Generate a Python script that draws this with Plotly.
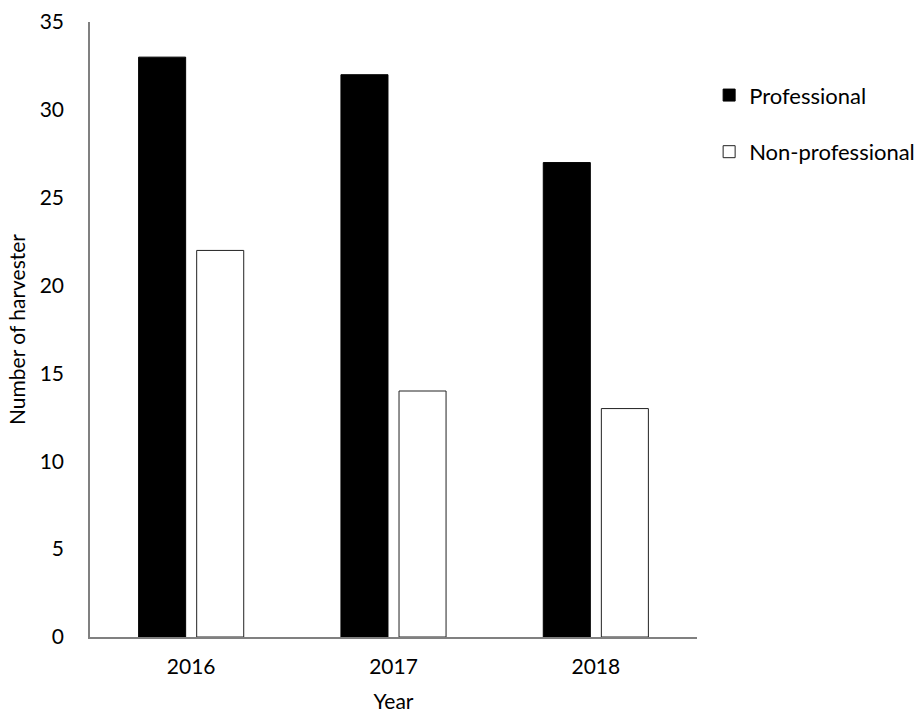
import plotly.graph_objects as go

years = ["2016", "2017", "2018"]
professional = [33, 32, 27]
non_professional = [22, 14, 13]
y_ticks = [0, 5, 10, 15, 20, 25, 30, 35]

FONT = "Lato, 'Open Sans', sans-serif"

fig = go.Figure()
fig.add_trace(go.Bar(
    x=years, y=professional, name="Professional",
    marker=dict(color="black", line=dict(color="black", width=1)),
    legendgroup="a",
))
fig.add_trace(go.Bar(
    x=years, y=non_professional, name="Non-professional",
    marker=dict(color="white", line=dict(color="#222222", width=1)),
    legendgroup="b",
))

fig.update_layout(
    width=922, height=713,
    margin=dict(l=90, r=225, t=22, b=76, autoexpand=False),
    paper_bgcolor="white", plot_bgcolor="white",
    barmode="group", bargap=0.426, bargroupgap=0.19,
    font=dict(family=FONT, size=21, color="black"),
    legend=dict(
        x=1.02, xanchor="left", y=0.915, yanchor="top",
        font=dict(family=FONT, size=22, color="black"),
        tracegroupgap=25, itemwidth=30,
        bgcolor="rgba(0,0,0,0)",
    ),
    xaxis=dict(
        showline=True, linecolor="#808080", linewidth=1.5,
        ticks="", ticklabelstandoff=10, automargin=False,
        title=dict(text="Year", standoff=22, font=dict(size=21)),
        tickfont=dict(size=21),
    ),
    yaxis=dict(
        range=[0, 35], tickvals=y_ticks, automargin=False,
        showline=True, linecolor="#808080", linewidth=1.5,
        showgrid=False, zeroline=False, ticks="",
        ticklabelstandoff=20,
        title=dict(text="Number of harvester", standoff=8, font=dict(size=21)),
        tickfont=dict(size=21),
    ),
)

fig.write_html("out.html")
